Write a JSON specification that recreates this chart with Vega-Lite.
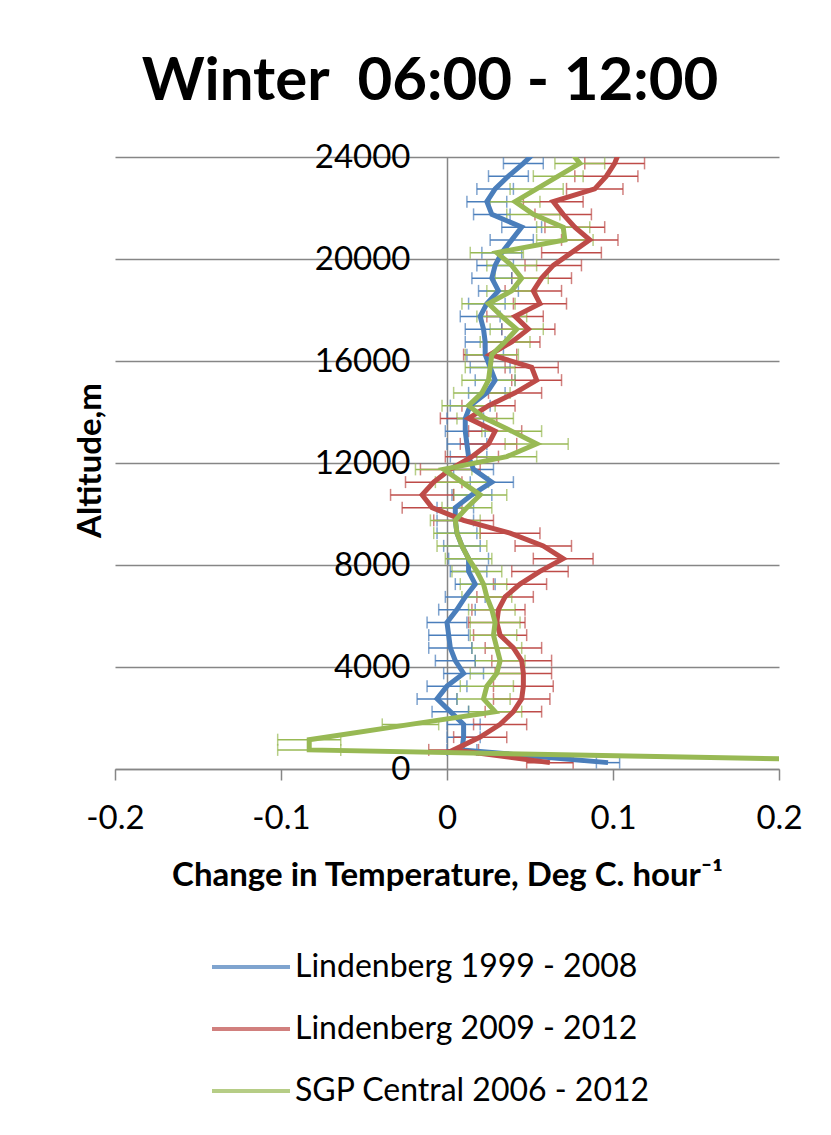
{
  "$schema": "https://vega.github.io/schema/vega-lite/v6.json",
  "width": 664,
  "height": 612,
  "autosize": {"type": "none"},
  "padding": {"left": 115, "top": 157, "right": 52, "bottom": 366},
  "background": "white",
  "title": {"text": "Winter\u00a0 06:00 - 12:00", "fontSize": 60, "fontWeight": "bold", "font": "Lato", "color": "black", "anchor": "middle", "dx": -17, "offset": 28},
  "config": {"view": {"stroke": null}, "font": "Lato"},
  "data": {"values": [
    {"series": "Lindenberg 1999 - 2008", "alt": 24250, "val": 0.054, "err": 0.012},
    {"series": "Lindenberg 1999 - 2008", "alt": 23750, "val": 0.046, "err": 0.012},
    {"series": "Lindenberg 1999 - 2008", "alt": 23250, "val": 0.037, "err": 0.012},
    {"series": "Lindenberg 1999 - 2008", "alt": 22750, "val": 0.029, "err": 0.011},
    {"series": "Lindenberg 1999 - 2008", "alt": 22250, "val": 0.024, "err": 0.012},
    {"series": "Lindenberg 1999 - 2008", "alt": 21750, "val": 0.027, "err": 0.011},
    {"series": "Lindenberg 1999 - 2008", "alt": 21250, "val": 0.045, "err": 0.012},
    {"series": "Lindenberg 1999 - 2008", "alt": 20750, "val": 0.039, "err": 0.013},
    {"series": "Lindenberg 1999 - 2008", "alt": 20250, "val": 0.033, "err": 0.012},
    {"series": "Lindenberg 1999 - 2008", "alt": 19750, "val": 0.029, "err": 0.011},
    {"series": "Lindenberg 1999 - 2008", "alt": 19250, "val": 0.027, "err": 0.012},
    {"series": "Lindenberg 1999 - 2008", "alt": 18750, "val": 0.031, "err": 0.012},
    {"series": "Lindenberg 1999 - 2008", "alt": 18250, "val": 0.024, "err": 0.011},
    {"series": "Lindenberg 1999 - 2008", "alt": 17750, "val": 0.020, "err": 0.012},
    {"series": "Lindenberg 1999 - 2008", "alt": 17250, "val": 0.022, "err": 0.011},
    {"series": "Lindenberg 1999 - 2008", "alt": 16750, "val": 0.023, "err": 0.012},
    {"series": "Lindenberg 1999 - 2008", "alt": 16250, "val": 0.023, "err": 0.011},
    {"series": "Lindenberg 1999 - 2008", "alt": 15750, "val": 0.026, "err": 0.012},
    {"series": "Lindenberg 1999 - 2008", "alt": 15250, "val": 0.029, "err": 0.012},
    {"series": "Lindenberg 1999 - 2008", "alt": 14750, "val": 0.024, "err": 0.011},
    {"series": "Lindenberg 1999 - 2008", "alt": 14250, "val": 0.014, "err": 0.012},
    {"series": "Lindenberg 1999 - 2008", "alt": 13750, "val": 0.011, "err": 0.011},
    {"series": "Lindenberg 1999 - 2008", "alt": 13250, "val": 0.011, "err": 0.012},
    {"series": "Lindenberg 1999 - 2008", "alt": 12750, "val": 0.012, "err": 0.012},
    {"series": "Lindenberg 1999 - 2008", "alt": 12250, "val": 0.013, "err": 0.011},
    {"series": "Lindenberg 1999 - 2008", "alt": 11750, "val": 0.016, "err": 0.012},
    {"series": "Lindenberg 1999 - 2008", "alt": 11250, "val": 0.027, "err": 0.013},
    {"series": "Lindenberg 1999 - 2008", "alt": 10750, "val": 0.015, "err": 0.012},
    {"series": "Lindenberg 1999 - 2008", "alt": 10250, "val": 0.005, "err": 0.011},
    {"series": "Lindenberg 1999 - 2008", "alt": 9750, "val": 0.005, "err": 0.011},
    {"series": "Lindenberg 1999 - 2008", "alt": 9250, "val": 0.006, "err": 0.012},
    {"series": "Lindenberg 1999 - 2008", "alt": 8750, "val": 0.009, "err": 0.011},
    {"series": "Lindenberg 1999 - 2008", "alt": 8250, "val": 0.013, "err": 0.012},
    {"series": "Lindenberg 1999 - 2008", "alt": 7750, "val": 0.013, "err": 0.011},
    {"series": "Lindenberg 1999 - 2008", "alt": 7250, "val": 0.017, "err": 0.012},
    {"series": "Lindenberg 1999 - 2008", "alt": 6750, "val": 0.011, "err": 0.012},
    {"series": "Lindenberg 1999 - 2008", "alt": 6250, "val": 0.006, "err": 0.011},
    {"series": "Lindenberg 1999 - 2008", "alt": 5750, "val": 0.000, "err": 0.012},
    {"series": "Lindenberg 1999 - 2008", "alt": 5250, "val": 0.001, "err": 0.012},
    {"series": "Lindenberg 1999 - 2008", "alt": 4750, "val": 0.002, "err": 0.013},
    {"series": "Lindenberg 1999 - 2008", "alt": 4250, "val": 0.005, "err": 0.012},
    {"series": "Lindenberg 1999 - 2008", "alt": 3750, "val": 0.010, "err": 0.012},
    {"series": "Lindenberg 1999 - 2008", "alt": 3250, "val": 0.000, "err": 0.012},
    {"series": "Lindenberg 1999 - 2008", "alt": 2750, "val": -0.006, "err": 0.012},
    {"series": "Lindenberg 1999 - 2008", "alt": 2250, "val": 0.002, "err": 0.011},
    {"series": "Lindenberg 1999 - 2008", "alt": 1750, "val": 0.010, "err": 0.010},
    {"series": "Lindenberg 1999 - 2008", "alt": 1250, "val": 0.010, "err": 0.010},
    {"series": "Lindenberg 1999 - 2008", "alt": 750, "val": 0.009, "err": 0.009},
    {"series": "Lindenberg 1999 - 2008", "alt": 250, "val": 0.097, "err": 0.007},
    {"series": "Lindenberg 2009 - 2012", "alt": 24250, "val": 0.104, "err": 0.018},
    {"series": "Lindenberg 2009 - 2012", "alt": 23750, "val": 0.101, "err": 0.018},
    {"series": "Lindenberg 2009 - 2012", "alt": 23250, "val": 0.096, "err": 0.019},
    {"series": "Lindenberg 2009 - 2012", "alt": 22750, "val": 0.089, "err": 0.017},
    {"series": "Lindenberg 2009 - 2012", "alt": 22250, "val": 0.064, "err": 0.018},
    {"series": "Lindenberg 2009 - 2012", "alt": 21750, "val": 0.070, "err": 0.017},
    {"series": "Lindenberg 2009 - 2012", "alt": 21250, "val": 0.077, "err": 0.018},
    {"series": "Lindenberg 2009 - 2012", "alt": 20750, "val": 0.086, "err": 0.017},
    {"series": "Lindenberg 2009 - 2012", "alt": 20250, "val": 0.075, "err": 0.018},
    {"series": "Lindenberg 2009 - 2012", "alt": 19750, "val": 0.064, "err": 0.017},
    {"series": "Lindenberg 2009 - 2012", "alt": 19250, "val": 0.057, "err": 0.018},
    {"series": "Lindenberg 2009 - 2012", "alt": 18750, "val": 0.052, "err": 0.017},
    {"series": "Lindenberg 2009 - 2012", "alt": 18250, "val": 0.056, "err": 0.016},
    {"series": "Lindenberg 2009 - 2012", "alt": 17750, "val": 0.041, "err": 0.017},
    {"series": "Lindenberg 2009 - 2012", "alt": 17250, "val": 0.049, "err": 0.016},
    {"series": "Lindenberg 2009 - 2012", "alt": 16750, "val": 0.039, "err": 0.017},
    {"series": "Lindenberg 2009 - 2012", "alt": 16250, "val": 0.026, "err": 0.016},
    {"series": "Lindenberg 2009 - 2012", "alt": 15750, "val": 0.051, "err": 0.016},
    {"series": "Lindenberg 2009 - 2012", "alt": 15250, "val": 0.054, "err": 0.015},
    {"series": "Lindenberg 2009 - 2012", "alt": 14750, "val": 0.041, "err": 0.016},
    {"series": "Lindenberg 2009 - 2012", "alt": 14250, "val": 0.025, "err": 0.016},
    {"series": "Lindenberg 2009 - 2012", "alt": 13750, "val": 0.013, "err": 0.017},
    {"series": "Lindenberg 2009 - 2012", "alt": 13250, "val": 0.029, "err": 0.016},
    {"series": "Lindenberg 2009 - 2012", "alt": 12750, "val": 0.025, "err": 0.017},
    {"series": "Lindenberg 2009 - 2012", "alt": 12250, "val": 0.015, "err": 0.016},
    {"series": "Lindenberg 2009 - 2012", "alt": 11750, "val": 0.002, "err": 0.018},
    {"series": "Lindenberg 2009 - 2012", "alt": 11250, "val": -0.008, "err": 0.017},
    {"series": "Lindenberg 2009 - 2012", "alt": 10750, "val": -0.015, "err": 0.019},
    {"series": "Lindenberg 2009 - 2012", "alt": 10250, "val": -0.009, "err": 0.018},
    {"series": "Lindenberg 2009 - 2012", "alt": 9750, "val": 0.010, "err": 0.018},
    {"series": "Lindenberg 2009 - 2012", "alt": 9250, "val": 0.038, "err": 0.018},
    {"series": "Lindenberg 2009 - 2012", "alt": 8750, "val": 0.058, "err": 0.017},
    {"series": "Lindenberg 2009 - 2012", "alt": 8250, "val": 0.070, "err": 0.018},
    {"series": "Lindenberg 2009 - 2012", "alt": 7750, "val": 0.056, "err": 0.017},
    {"series": "Lindenberg 2009 - 2012", "alt": 7250, "val": 0.044, "err": 0.016},
    {"series": "Lindenberg 2009 - 2012", "alt": 6750, "val": 0.035, "err": 0.017},
    {"series": "Lindenberg 2009 - 2012", "alt": 6250, "val": 0.031, "err": 0.016},
    {"series": "Lindenberg 2009 - 2012", "alt": 5750, "val": 0.030, "err": 0.017},
    {"series": "Lindenberg 2009 - 2012", "alt": 5250, "val": 0.032, "err": 0.016},
    {"series": "Lindenberg 2009 - 2012", "alt": 4750, "val": 0.040, "err": 0.017},
    {"series": "Lindenberg 2009 - 2012", "alt": 4250, "val": 0.045, "err": 0.018},
    {"series": "Lindenberg 2009 - 2012", "alt": 3750, "val": 0.046, "err": 0.017},
    {"series": "Lindenberg 2009 - 2012", "alt": 3250, "val": 0.046, "err": 0.018},
    {"series": "Lindenberg 2009 - 2012", "alt": 2750, "val": 0.045, "err": 0.017},
    {"series": "Lindenberg 2009 - 2012", "alt": 2250, "val": 0.040, "err": 0.017},
    {"series": "Lindenberg 2009 - 2012", "alt": 1750, "val": 0.032, "err": 0.016},
    {"series": "Lindenberg 2009 - 2012", "alt": 1250, "val": 0.020, "err": 0.016},
    {"series": "Lindenberg 2009 - 2012", "alt": 750, "val": 0.004, "err": 0.015},
    {"series": "Lindenberg 2009 - 2012", "alt": 250, "val": 0.062, "err": 0.014},
    {"series": "SGP Central 2006 - 2012", "alt": 24250, "val": 0.074, "err": 0.015},
    {"series": "SGP Central 2006 - 2012", "alt": 23750, "val": 0.080, "err": 0.015},
    {"series": "SGP Central 2006 - 2012", "alt": 23250, "val": 0.067, "err": 0.015},
    {"series": "SGP Central 2006 - 2012", "alt": 22750, "val": 0.054, "err": 0.016},
    {"series": "SGP Central 2006 - 2012", "alt": 22250, "val": 0.041, "err": 0.015},
    {"series": "SGP Central 2006 - 2012", "alt": 21750, "val": 0.052, "err": 0.016},
    {"series": "SGP Central 2006 - 2012", "alt": 21250, "val": 0.070, "err": 0.016},
    {"series": "SGP Central 2006 - 2012", "alt": 20750, "val": 0.071, "err": 0.017},
    {"series": "SGP Central 2006 - 2012", "alt": 20250, "val": 0.030, "err": 0.016},
    {"series": "SGP Central 2006 - 2012", "alt": 19750, "val": 0.039, "err": 0.015},
    {"series": "SGP Central 2006 - 2012", "alt": 19250, "val": 0.045, "err": 0.016},
    {"series": "SGP Central 2006 - 2012", "alt": 18750, "val": 0.039, "err": 0.015},
    {"series": "SGP Central 2006 - 2012", "alt": 18250, "val": 0.025, "err": 0.016},
    {"series": "SGP Central 2006 - 2012", "alt": 17750, "val": 0.033, "err": 0.015},
    {"series": "SGP Central 2006 - 2012", "alt": 17250, "val": 0.042, "err": 0.016},
    {"series": "SGP Central 2006 - 2012", "alt": 16750, "val": 0.035, "err": 0.015},
    {"series": "SGP Central 2006 - 2012", "alt": 16250, "val": 0.027, "err": 0.016},
    {"series": "SGP Central 2006 - 2012", "alt": 15750, "val": 0.026, "err": 0.015},
    {"series": "SGP Central 2006 - 2012", "alt": 15250, "val": 0.025, "err": 0.016},
    {"series": "SGP Central 2006 - 2012", "alt": 14750, "val": 0.021, "err": 0.017},
    {"series": "SGP Central 2006 - 2012", "alt": 14250, "val": 0.013, "err": 0.016},
    {"series": "SGP Central 2006 - 2012", "alt": 13750, "val": 0.023, "err": 0.017},
    {"series": "SGP Central 2006 - 2012", "alt": 13250, "val": 0.039, "err": 0.018},
    {"series": "SGP Central 2006 - 2012", "alt": 12750, "val": 0.054, "err": 0.019},
    {"series": "SGP Central 2006 - 2012", "alt": 12250, "val": 0.036, "err": 0.018},
    {"series": "SGP Central 2006 - 2012", "alt": 11750, "val": -0.002, "err": 0.017},
    {"series": "SGP Central 2006 - 2012", "alt": 11250, "val": 0.009, "err": 0.016},
    {"series": "SGP Central 2006 - 2012", "alt": 10750, "val": 0.020, "err": 0.016},
    {"series": "SGP Central 2006 - 2012", "alt": 10250, "val": 0.012, "err": 0.015},
    {"series": "SGP Central 2006 - 2012", "alt": 9750, "val": 0.005, "err": 0.015},
    {"series": "SGP Central 2006 - 2012", "alt": 9250, "val": 0.006, "err": 0.014},
    {"series": "SGP Central 2006 - 2012", "alt": 8750, "val": 0.009, "err": 0.015},
    {"series": "SGP Central 2006 - 2012", "alt": 8250, "val": 0.013, "err": 0.014},
    {"series": "SGP Central 2006 - 2012", "alt": 7750, "val": 0.018, "err": 0.015},
    {"series": "SGP Central 2006 - 2012", "alt": 7250, "val": 0.022, "err": 0.014},
    {"series": "SGP Central 2006 - 2012", "alt": 6750, "val": 0.024, "err": 0.015},
    {"series": "SGP Central 2006 - 2012", "alt": 6250, "val": 0.027, "err": 0.014},
    {"series": "SGP Central 2006 - 2012", "alt": 5750, "val": 0.029, "err": 0.015},
    {"series": "SGP Central 2006 - 2012", "alt": 5250, "val": 0.028, "err": 0.014},
    {"series": "SGP Central 2006 - 2012", "alt": 4750, "val": 0.030, "err": 0.015},
    {"series": "SGP Central 2006 - 2012", "alt": 4250, "val": 0.032, "err": 0.015},
    {"series": "SGP Central 2006 - 2012", "alt": 3750, "val": 0.030, "err": 0.016},
    {"series": "SGP Central 2006 - 2012", "alt": 3250, "val": 0.024, "err": 0.016},
    {"series": "SGP Central 2006 - 2012", "alt": 2750, "val": 0.022, "err": 0.016},
    {"series": "SGP Central 2006 - 2012", "alt": 2250, "val": 0.029, "err": 0.016},
    {"series": "SGP Central 2006 - 2012", "alt": 1750, "val": -0.022, "err": 0.017},
    {"series": "SGP Central 2006 - 2012", "alt": 1150, "val": -0.083, "err": 0.019},
    {"series": "SGP Central 2006 - 2012", "alt": 750, "val": -0.083, "err": 0.019},
    {"series": "SGP Central 2006 - 2012", "alt": 250, "val": 0.32, "err": 0.02}
  ]},
  "encoding": {
    "y": {"field": "alt", "type": "quantitative",
      "scale": {"domain": [0, 24000], "nice": false, "zero": false},
      "axis": {"values": [0, 4000, 8000, 12000, 16000, 20000, 24000], "format": "d", "offset": -332,
        "ticks": false, "domain": true, "domainColor": "#868686", "domainWidth": 1.5,
        "grid": true, "gridColor": "#868686", "gridWidth": 1.3,
        "labelFontSize": 33, "labelFont": "Lato", "labelColor": "black", "labelPadding": 37, "labelOverlap": false,
        "title": "Altitude,m", "titleFontSize": 33, "titleFont": "Lato", "titleFontWeight": "bold", "titleColor": "black",
        "titleX": -357, "titleY": 303, "titleAngle": -90, "titleAlign": "center", "titleBaseline": "middle"}},
    "x": {"field": "val", "type": "quantitative",
      "scale": {"domain": [-0.2, 0.2], "nice": false, "zero": false},
      "axis": {"values": [-0.2, -0.1, 0, 0.1, 0.2],
        "labelExpr": "datum.value == 0 ? '0' : replace(format(datum.value, '.1f'), '−', '-')",
        "grid": false, "domainColor": "#868686", "domainWidth": 1.5, "tickColor": "#868686", "tickWidth": 1.5, "tickSize": 11,
        "labelFontSize": 33, "labelFont": "Lato", "labelColor": "black", "labelPadding": 22, "labelFlush": false, "labelOverlap": false,
        "title": "Change in Temperature, Deg C. hour⁻¹", "titleFontSize": 33, "titleFont": "Lato", "titleFontWeight": "bold", "titleColor": "black", "titlePadding": 24}},
    "color": {"field": "series", "type": "nominal",
      "scale": {"domain": ["Lindenberg 1999 - 2008", "Lindenberg 2009 - 2012", "SGP Central 2006 - 2012"], "range": ["#4A7EBB", "#BE4B48", "#98B954"]},
      "legend": {"orient": "none", "legendX": 95, "legendY": 790, "title": null, "direction": "vertical",
        "symbolType": "stroke", "symbolSize": 6084, "symbolStrokeWidth": 4,
        "labelFontSize": 32, "labelFont": "Lato", "labelColor": "black", "labelOffset": 3, "labelLimit": 0,
        "rowPadding": 22, "clipHeight": 40, "padding": 0}}
  },
  "layer": [
    {"mark": {"type": "errorbar", "ticks": {"size": 12}, "thickness": 1.5, "clip": true},
     "encoding": {"xError": {"field": "err"}}},
    {"mark": {"type": "line", "strokeWidth": 5, "clip": true},
     "encoding": {"order": {"field": "alt", "type": "quantitative"}}}
  ]
}
